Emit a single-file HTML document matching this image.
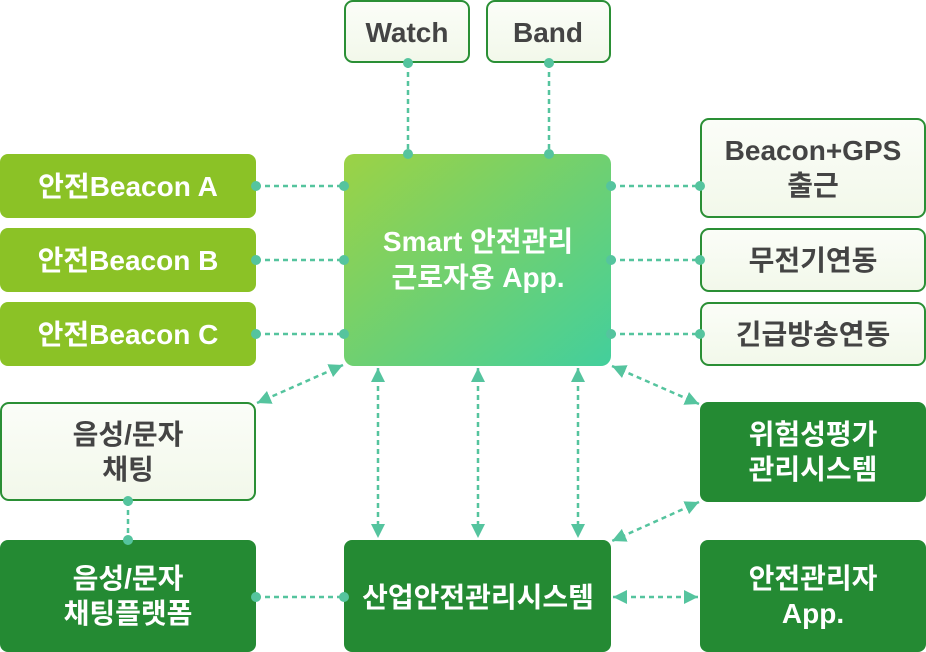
<!DOCTYPE html>
<html><head><meta charset="utf-8">
<style>
html,body{margin:0;padding:0;background:#fff;}
svg{display:block;}
text{font-family:"Liberation Sans","Noto Sans CJK KR",sans-serif;font-weight:bold;font-size:28px;text-anchor:middle;}
.d{fill:#444;}
.w{fill:#fff;}
</style></head><body>
<svg width="926" height="652" viewBox="0 0 926 652" xmlns="http://www.w3.org/2000/svg">
<defs>
<linearGradient id="g" x1="0" y1="0" x2="1" y2="1">
<stop offset="0" stop-color="#9cd245"/><stop offset="1" stop-color="#43cf9c"/>
</linearGradient>
<linearGradient id="lt" x1="0" y1="0" x2="0" y2="1">
<stop offset="0" stop-color="#fbfdf8"/><stop offset="1" stop-color="#f2f8ea"/>
</linearGradient>
<marker id="a" viewBox="0 0 10 10" refX="10" refY="5" markerWidth="14" markerHeight="14" markerUnits="userSpaceOnUse" orient="auto-start-reverse">
<path d="M0,0 L10,5 L0,10 z" fill="#55c49e"/>
</marker>
</defs>
<g stroke="#55c49e" stroke-width="2.5" stroke-dasharray="5,4" fill="none">
<line x1="408" y1="63" x2="408" y2="154"/>
<line x1="549" y1="63" x2="549" y2="154"/>
<line x1="256" y1="186" x2="344" y2="186"/>
<line x1="256" y1="260" x2="344" y2="260"/>
<line x1="256" y1="334" x2="344" y2="334"/>
<line x1="611" y1="186" x2="700" y2="186"/>
<line x1="611" y1="260" x2="700" y2="260"/>
<line x1="611" y1="334" x2="700" y2="334"/>
<line x1="128" y1="501" x2="128" y2="540"/>
<line x1="256" y1="597" x2="344" y2="597"/>
<line x1="613" y1="597" x2="698" y2="597" marker-start="url(#a)" marker-end="url(#a)"/>
<line x1="378" y1="368" x2="378" y2="538" marker-start="url(#a)" marker-end="url(#a)"/>
<line x1="478" y1="368" x2="478" y2="538" marker-start="url(#a)" marker-end="url(#a)"/>
<line x1="578" y1="368" x2="578" y2="538" marker-start="url(#a)" marker-end="url(#a)"/>
<line x1="343" y1="365" x2="257" y2="403" marker-start="url(#a)" marker-end="url(#a)"/>
<line x1="612" y1="366" x2="699" y2="404" marker-start="url(#a)" marker-end="url(#a)"/>
<line x1="699" y1="502" x2="612" y2="541" marker-start="url(#a)" marker-end="url(#a)"/>
</g>
<rect x="345" y="1" width="124" height="61" rx="8" fill="url(#lt)" stroke="#2a8f35" stroke-width="2"/>
<rect x="487" y="1" width="123" height="61" rx="8" fill="url(#lt)" stroke="#2a8f35" stroke-width="2"/>
<text class="d" x="407" y="42">Watch</text>
<text class="d" x="548" y="42">Band</text>
<rect x="0" y="154" width="256" height="64" rx="8" fill="#8bc226"/>
<rect x="0" y="228" width="256" height="64" rx="8" fill="#8bc226"/>
<rect x="0" y="302" width="256" height="64" rx="8" fill="#8bc226"/>
<text class="w" x="128" y="196">안전Beacon A</text>
<text class="w" x="128" y="270">안전Beacon B</text>
<text class="w" x="128" y="344">안전Beacon C</text>
<rect x="344" y="154" width="267" height="212" rx="10" fill="url(#g)"/>
<text class="w" x="478" y="251">Smart 안전관리</text>
<text class="w" x="478" y="287">근로자용 App.</text>
<rect x="701" y="119" width="224" height="98" rx="8" fill="url(#lt)" stroke="#2a8f35" stroke-width="2"/>
<rect x="701" y="229" width="224" height="62" rx="8" fill="url(#lt)" stroke="#2a8f35" stroke-width="2"/>
<rect x="701" y="303" width="224" height="62" rx="8" fill="url(#lt)" stroke="#2a8f35" stroke-width="2"/>
<text class="d" x="813" y="160">Beacon+GPS</text>
<text class="d" x="813" y="195">출근</text>
<text class="d" x="813" y="270">무전기연동</text>
<text class="d" x="813" y="344">긴급방송연동</text>
<rect x="1" y="403" width="254" height="97" rx="8" fill="url(#lt)" stroke="#2a8f35" stroke-width="2"/>
<text class="d" x="128" y="444">음성/문자</text>
<text class="d" x="128" y="479">채팅</text>
<rect x="700" y="402" width="226" height="100" rx="8" fill="#248a33"/>
<text class="w" x="813" y="444">위험성평가</text>
<text class="w" x="813" y="479">관리시스템</text>
<rect x="0" y="540" width="256" height="112" rx="8" fill="#248a33"/>
<text class="w" x="128" y="588">음성/문자</text>
<text class="w" x="128" y="623">채팅플랫폼</text>
<rect x="344" y="540" width="267" height="112" rx="8" fill="#248a33"/>
<text class="w" x="478" y="607">산업안전관리시스템</text>
<rect x="700" y="540" width="226" height="112" rx="8" fill="#248a33"/>
<text class="w" x="813" y="588">안전관리자</text>
<text class="w" x="813" y="623">App.</text>
<g fill="#55c49e">
<circle cx="408" cy="63" r="5"/><circle cx="408" cy="154" r="5"/>
<circle cx="549" cy="63" r="5"/><circle cx="549" cy="154" r="5"/>
<circle cx="256" cy="186" r="5"/><circle cx="344" cy="186" r="5"/>
<circle cx="256" cy="260" r="5"/><circle cx="344" cy="260" r="5"/>
<circle cx="256" cy="334" r="5"/><circle cx="344" cy="334" r="5"/>
<circle cx="611" cy="186" r="5"/><circle cx="700" cy="186" r="5"/>
<circle cx="611" cy="260" r="5"/><circle cx="700" cy="260" r="5"/>
<circle cx="611" cy="334" r="5"/><circle cx="700" cy="334" r="5"/>
<circle cx="128" cy="501" r="5"/><circle cx="128" cy="540" r="5"/>
<circle cx="256" cy="597" r="5"/><circle cx="344" cy="597" r="5"/>
</g>
</svg>
</body></html>
